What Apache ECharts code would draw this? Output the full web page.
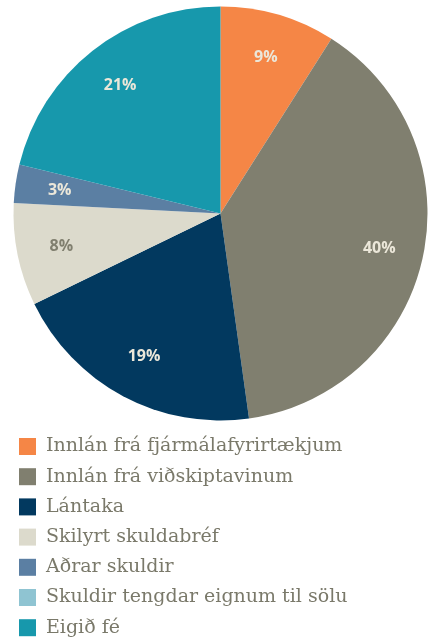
<!DOCTYPE html>
<html>
<head>
<meta charset="utf-8">
<script src="https://cdn.jsdelivr.net/npm/echarts@6/dist/echarts.min.js"></script>
<style>
    html, body { margin: 0; padding: 0; background: #fff; }
    #chart { width: 429px; height: 637px; }
</style>
</head>
<body>
<div id="chart"></div>
<script>
// flokkar og hlutföll (%)
var categories = ['Innlán frá fjármálafyrirtækjum', 'Innlán frá viðskiptavinum', 'Lántaka', 'Skilyrt skuldabréf', 'Aðrar skuldir', 'Skuldir tengdar eignum til sölu', 'Eigið fé'];
var values = [9.0, 38.8, 20.0, 8.0, 3.0, 0, 21.2];
var pctLabels = ['9%', '40%', '19%', '8%', '3%', '', '21%'];
var colors = ['#f58646', '#807f6f', '#02395f', '#dcdacc', '#5b7fa3', '#8fc4d2', '#1798ac'];
var labelColors = ['#ebe7d9', '#ebe7d9', '#ebe7d9', '#807f6f', '#ebe7d9', '#ebe7d9', '#ebe7d9'];

var chart = echarts.init(document.getElementById('chart'));

var pieData = categories.map(function (name, i) {
    return { name: name, value: values[i], itemStyle: { color: colors[i] } };
});
var labelData = categories.map(function (name, i) {
    return {
        name: name,
        value: values[i],
        label: { color: labelColors[i] }
    };
});

var option = {
    animation: false,
    legend: {
        orient: 'vertical',
        left: 14,
        top: 432,
        height: 220,
        itemWidth: 17,
        itemHeight: 17,
        itemGap: 11.2,
        icon: 'rect',
        data: categories,
        selectedMode: false,
        textStyle: {
            fontFamily: 'DejaVu Serif',
            fontSize: 19,
            lineHeight: 18,
            color: '#7a796a',
            padding: [0, 0, 0, 5]
        }
    },
    series: [
        {
            name: 'skipting',
            type: 'pie',
            center: [220.5, 213.5],
            radius: [0, 207],
            startAngle: 90,
            clockwise: true,
            silent: true,
            label: { show: false },
            labelLine: { show: false },
            itemStyle: { borderWidth: 0 },
            data: pieData
        },
        {
            // gegnsær hringur fyrir merkingar utarlega í sneiðunum
            name: 'merkingar',
            type: 'pie',
            center: [220.5, 213.5],
            radius: [112, 207],
            startAngle: 90,
            clockwise: true,
            silent: true,
            itemStyle: { color: 'rgba(0,0,0,0)', borderWidth: 0 },
            label: {
                show: true,
                position: 'inside',
                fontFamily: 'Open Sans',
                fontWeight: 'bold',
                fontSize: 16,
                formatter: function (p) { return pctLabels[p.dataIndex]; }
            },
            labelLine: { show: false },
            data: labelData
        }
    ]
};
chart.setOption(option);
</script>
</body>
</html>
